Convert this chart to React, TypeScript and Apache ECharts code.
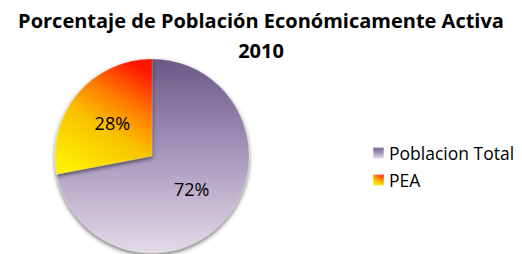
import React, { useEffect, useRef } from "react";
import * as echarts from "echarts";

const titleLines = ["Porcentaje de Población Económicamente Activa", "2010"];
const categories = ["Poblacion Total", "PEA"];
const values = [72, 28];

export default function App() {
  const ref = useRef<HTMLDivElement>(null);
  useEffect(() => {
    if (!ref.current) return;
    const chart = echarts.init(ref.current, null, { renderer: "svg" });
    const fills = [
      new echarts.graphic.LinearGradient(0, 0, 0, 1, [
        { offset: 0, color: "#6b5886" },
        { offset: 0.5, color: "#a898bd" },
        { offset: 1, color: "#e2dbe9" },
      ]),
      new echarts.graphic.LinearGradient(0.75, 0, 0.25, 1, [
        { offset: 0, color: "#ff1400" },
        { offset: 0.3, color: "#ff7800" },
        { offset: 0.58, color: "#f8c200" },
        { offset: 1, color: "#ffef00" },
      ]),
    ];
    chart.setOption({
      animation: false,
      title: {
        text: titleLines.join("\n"),
        left: "center",
        top: -3,
        padding: 0,
        textStyle: {
          fontFamily: "Open Sans",
          fontWeight: "bold",
          fontSize: 20,
          lineHeight: 30,
          color: "#000",
        },
      },
      legend: {
        orient: "vertical",
        left: 364,
        top: 136,
        padding: 0,
        itemWidth: 11,
        itemHeight: 11,
        itemGap: 9,
        icon: "rect",
        data: categories,
        textStyle: {
          fontFamily: "Open Sans",
          fontSize: 17.5,
          lineHeight: 18,
          color: "#000",
        },
      },
      series: [
        {
          type: "pie",
          center: [144, 148],
          radius: 97,
          startAngle: 90,
          clockwise: true,
          data: categories.map((name, i) => ({
            name,
            value: values[i],
            itemStyle: { color: fills[i] },
          })),
          itemStyle: {
            borderColor: "rgba(255,255,255,0.3)",
            borderWidth: 0.5,
            shadowBlur: 4,
            shadowOffsetY: 2,
            shadowColor: "rgba(0,0,0,0.6)",
          },
          label: {
            position: "inside",
            formatter: "{d}%",
            fontFamily: "Open Sans",
            fontSize: 18,
            color: "#000",
          },
          labelLine: { show: false },
          emphasis: { disabled: true },
        },
      ],
    });
    return () => chart.dispose();
  }, []);
  return <div ref={ref} style={{ width: 506, height: 246 }} />;
}
